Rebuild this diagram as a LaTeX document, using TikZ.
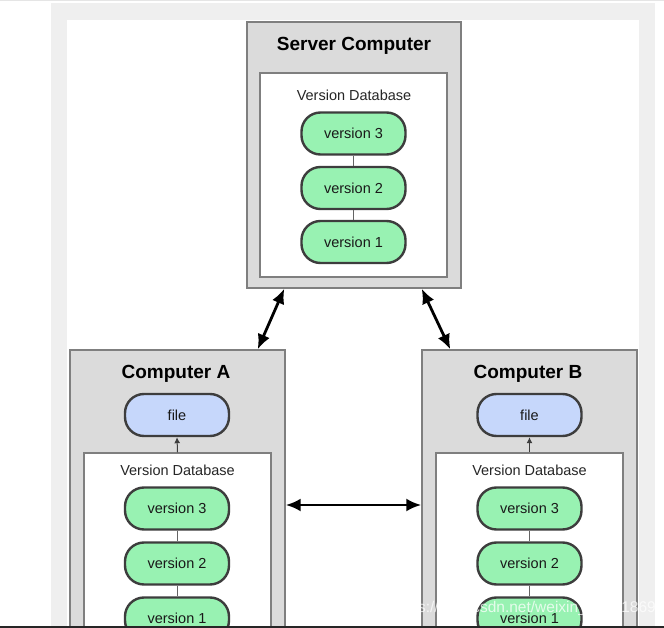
\documentclass[tikz,border=0pt]{standalone}
\usepackage{fontspec}
\setmainfont{Liberation Sans}
\usetikzlibrary{arrows.meta}

\definecolor{pageGray}{HTML}{EFEFEF}
\definecolor{boxGray}{HTML}{DBDBDB}
\definecolor{edgeGray}{HTML}{7F7F7F}
\definecolor{pillGreen}{HTML}{98F2B2}
\definecolor{pillBlue}{HTML}{C6D7FB}
\definecolor{pillEdge}{HTML}{3D3D3D}

\begin{document}
\begin{tikzpicture}
[x=1pt,y=-1pt,
  boxDecorate/.style={draw=edgeGray,fill=boxGray,line width=1.4pt,inner sep=0pt},%
  dbDecorate/.style={draw=edgeGray,fill=white,line width=1.4pt,inner sep=0pt},%
  pillDecorate/.style={draw=pillEdge,fill=pillGreen,line width=2.4pt,rounded corners=19pt,%
    minimum width=104pt,minimum height=42pt,inner sep=0pt,text=black!90,%
    font=\fontsize{14.5}{16}\selectfont},%
  fileDecorate/.style={pillDecorate,fill=pillBlue},%
  titleDecorate/.style={font=\bfseries\fontsize{19}{21}\selectfont},%
  labelDecorate/.style={text=black!85,font=\fontsize{14.5}{16}\selectfont},%
  lineDecorate/.style={-,draw=pillEdge!80,line width=1pt},%
  arrowDecorate/.style={{Latex[length=15pt,width=13pt]}-{Latex[length=15pt,width=13pt]},line width=2.8pt},%
  fileArrow/.style={-{Latex[length=6pt,width=6pt]},draw=pillEdge,line width=1pt}]
\useasboundingbox (0,0) rectangle (664,628);
\clip (0,0) rectangle (664,628);
%% page
\fill[white] (0,0) rectangle (664,628);
\fill[pageGray] (51,3) rectangle (655,628);
\fill[white] (67,20) rectangle (639,628);
\fill[black!10] (0,0) rectangle (664,1.5);
%% computers
\node (srv) at (354,155) [boxDecorate,minimum width=214pt,minimum height=266pt] {};
\node (compA) at (177.5,525) [boxDecorate,minimum width=215pt,minimum height=350pt] {};
\node (compB) at (529.5,525) [boxDecorate,minimum width=215pt,minimum height=350pt] {};
\node (dbS) at (353.5,175) [dbDecorate,minimum width=187pt,minimum height=204pt] {};
\node (dbA) at (177.5,576.5) [dbDecorate,minimum width=187pt,minimum height=247pt] {};
\node (dbB) at (529.5,576.5) [dbDecorate,minimum width=187pt,minimum height=247pt] {};
%% titles and labels
\foreach \nodename/\x/\y/\txt in {
  srvTitle/354/46/Server Computer, aTitle/176/374/Computer A,
  bTitle/528/374/Computer B}
{
  \node (\nodename) at (\x,\y) [titleDecorate] {\txt};
}
\foreach \nodename/\x/\y in {dbSLabel/354/95, dbALabel/177.5/470, dbBLabel/529.5/470}
{
  \node (\nodename) at (\x,\y) [labelDecorate] {Version Database};
}
%% versions
\foreach \nodename/\x/\y/\n in {
  s3/353.5/133.5/3, s2/353.5/188/2, s1/353.5/242/1,
  a3/177/508.5/3, a2/177/563.5/2, a1/177/618.5/1,
  b3/529.5/508.5/3, b2/529.5/563.5/2, b1/529.5/618.5/1}
{
  \node (\nodename) at (\x,\y) [pillDecorate] {version \n};
}
\node (fileA) at (177,415) [fileDecorate] {file};
\node (fileB) at (529.5,415) [fileDecorate] {file};
%% edges
\path
\foreach \startnode/\endnode in {s3/s2, s2/s1, a3/a2, a2/a1, b3/b2, b2/b1}
{
  (\startnode) edge[lineDecorate] (\endnode)
};
\draw[fileArrow] (dbA.north) -- (fileA.south);
\draw[fileArrow] (dbB.north) -- (fileB.south);
\draw[arrowDecorate] ([xshift=38pt]srv.south west) -- ([xshift=-28pt]compA.north east);
\draw[arrowDecorate] ([xshift=-40pt]srv.south east) -- ([xshift=29pt]compB.north west);
\draw[arrowDecorate] ([yshift=20pt]compA.east) -- ([yshift=20pt]compB.west);
%% watermark and screen edge
\node (mark) at (524,608) [text=white,opacity=0.75,font=\fontsize{15.5}{17}\selectfont] {https://blog.csdn.net/weixin\_44421869};
\fill[black!85] (0,625.5) rectangle (664,628);
\end{tikzpicture}
\end{document}
